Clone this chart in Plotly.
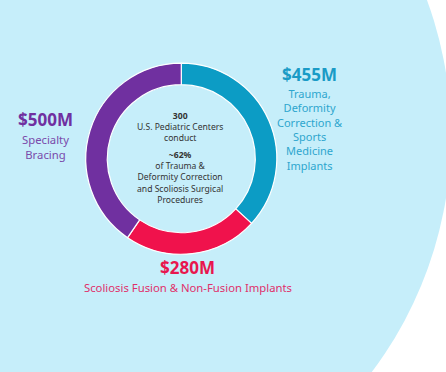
import plotly.graph_objects as go

# Market segments (USD millions), clockwise from 12 o'clock
segments = ["Trauma, Deformity Correction & Sports Medicine Implants",
            "Scoliosis Fusion & Non-Fusion Implants",
            "Specialty Bracing"]
values = [455, 280, 500]
value_labels = ["$455M", "$280M", "$500M"]
colors = ["#0C9CC5", "#F0124C", "#7030A0"]

# Label text, one entry per line
teal_lines = ["Trauma,", "Deformity", "Correction &", "Sports", "Medicine", "Implants"]
red_lines = ["Scoliosis Fusion & Non-Fusion Implants"]
purple_lines = ["Specialty", "Bracing"]
center_top = ["<b>300</b>", "U.S. Pediatric Centers", "conduct"]
center_bottom = ["<b>~62%</b>", "of Trauma &", "Deformity Correction",
                 "and Scoliosis Surgical", "Procedures"]

W, H = 446, 372
FONT = "Noto Sans, Open Sans, sans-serif"

# donut geometry in pixels
cx, cy, r = 181.3, 158.7, 95.5

fig = go.Figure()
fig.add_trace(go.Pie(
    labels=segments, values=values, sort=False, direction="clockwise", rotation=0,
    hole=0.775, textinfo="none", hoverinfo="label+value",
    marker=dict(colors=colors, line=dict(color="white", width=1.2)),
    domain=dict(x=[(cx - r) / W, (cx + r) / W],
                y=[(H - cy - r) / H, (H - cy + r) / H]),
    showlegend=False,
))

annotations = []


def add_text(x, y, lines, size, color, bold=False):
    text = "<br>".join(lines)
    annotations.append(dict(
        x=x, y=y, xref="x", yref="y", text=f"<b>{text}</b>" if bold else text,
        showarrow=False, xanchor="center", yanchor="middle", borderpad=0,
        font=dict(family=FONT, size=size, color=color),
    ))


# right label
add_text(309.5, 74, [value_labels[0]], 17, "#1A9BC6", True)
add_text(309.5, 129.5, teal_lines, 11, "#2EA6CE")

# bottom label
add_text(187.5, 267.5, [value_labels[1]], 17, "#E8164E", True)
add_text(188, 287, red_lines, 11.3, "#E0306A")

# left label
add_text(45.5, 119.5, [value_labels[2]], 17, "#7030A0", True)
add_text(45.5, 147, purple_lines, 11.3, "#7A4AAA")

# centre text
add_text(180, 127, center_top, 8.6, "#333333")
add_text(180, 177.5, center_bottom, 8.6, "#333333")

fig.update_layout(
    width=W, height=H, margin=dict(l=0, r=0, t=0, b=0),
    paper_bgcolor="white", plot_bgcolor="white",
    xaxis=dict(range=[0, W], visible=False, fixedrange=True),
    yaxis=dict(range=[H, 0], visible=False, fixedrange=True),
    shapes=[dict(type="circle", xref="x", yref="y", layer="below",
                 x0=58 - 393, x1=58 + 393, y0=135.4 - 393, y1=135.4 + 393,
                 fillcolor="#C6EEFA", line=dict(width=0))],
    annotations=annotations,
)

fig.write_html("out.html")
